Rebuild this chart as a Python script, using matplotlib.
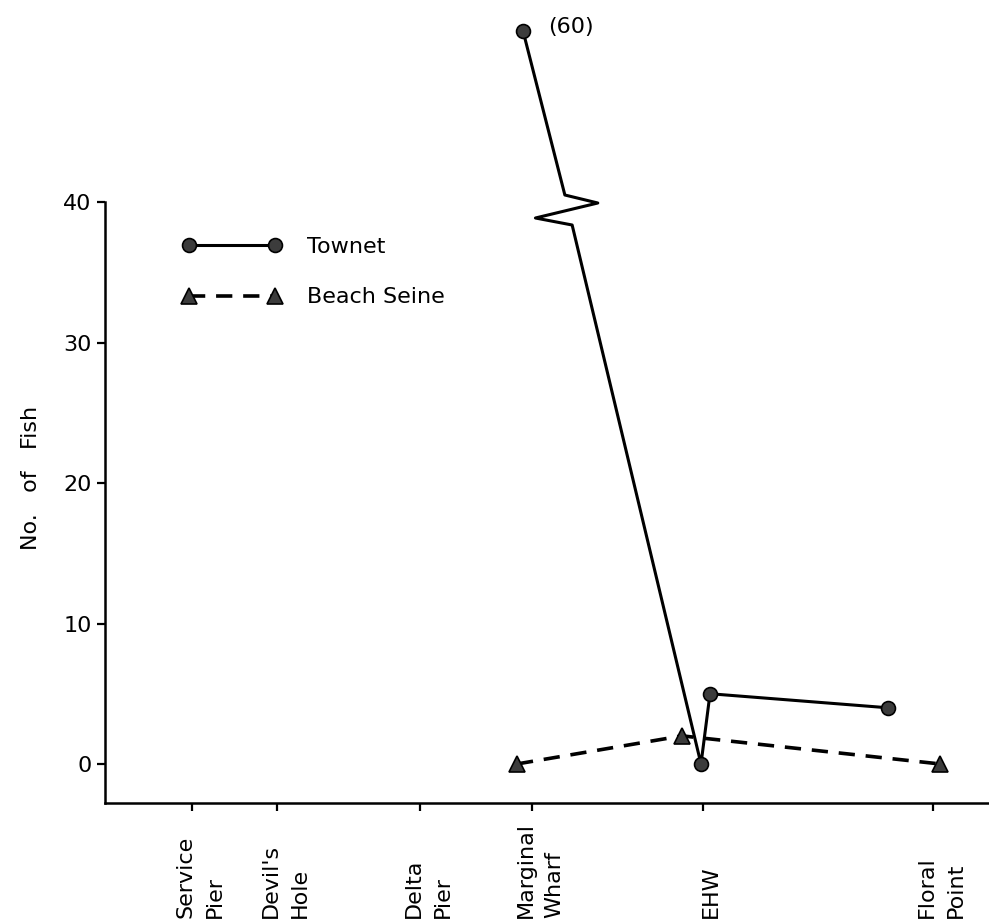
import numpy as np
import matplotlib
matplotlib.use("Agg")
import matplotlib.pyplot as plt
from matplotlib.transforms import blended_transform_factory, offset_copy

plt.rcParams['font.family'] = ['DejaVu Sans']

# Sampling sites along the shoreline (relative distance units)
sites = ["Service\nPier", "Devil's\nHole", "Delta\nPier", "Marginal\nWharf", "EHW", "Floral\nPoint"]
site_pos = [0.0, 8.5, 22.8, 34.0, 51.1, 74.1]

# Catch per gear type
townet_x = [33.1, 50.9, 51.8, 69.6]
townet_n = [60, 0, 5, 4]
seine_x = [32.5, 49.0, 74.8]
seine_n = [0, 2, 0]

yticks = [0, 10, 20, 30, 40]

# Broken y axis: values above the break are compressed
BREAK = 40.0
SQUEEZE = 0.61


def fwd(v):
    v = np.asarray(v, dtype=float)
    return np.where(v <= BREAK, v, BREAK + (v - BREAK) * SQUEEZE)


def inv(d):
    d = np.asarray(d, dtype=float)
    return np.where(d <= BREAK, d, BREAK + (d - BREAK) / SQUEEZE)


W, H, DPI = 989, 924, 100
FS = 16
AX_BOTTOM = 803
fig = plt.figure(figsize=(W / DPI, H / DPI), dpi=DPI)
ax = fig.add_axes([105 / W, (H - AX_BOTTOM) / H, 1 - 105 / W, AX_BOTTOM / H])
ax.set_yscale('function', functions=(fwd, inv))
ax.set_xlim(-8.7, 79.7)
ax.set_ylim(-2.78, 63.6)

lw_axis = 1.8
for s in ['top', 'right']:
    ax.spines[s].set_visible(False)
for s in ['left', 'bottom']:
    ax.spines[s].set_linewidth(lw_axis)
ax.spines['left'].set_bounds(-2.78, 40)

ax.set_yticks(yticks)
ax.set_yticklabels([str(t) for t in yticks], fontsize=FS)
ax.tick_params(axis='y', length=6, width=1.6, pad=3.5)
ax.set_xticks(site_pos)
ax.set_xticklabels([])
ax.tick_params(axis='x', length=6, width=1.6)
ax.minorticks_off()

# Site names, rotated and aligned at the bottom, set slightly right of each tick
tr = offset_copy(blended_transform_factory(ax.transData, fig.transFigure),
                 fig=fig, x=6, y=0, units='points')
for x, name in zip(site_pos, sites):
    ax.text(x, 6 / H, name, transform=tr, rotation=90, ha='center', va='bottom',
            multialignment='left', fontsize=FS, linespacing=1.55, clip_on=False)

fig.text(31 / W, 1 - 478 / H, "No.   of   Fish", rotation=90, ha='center', va='center',
         fontsize=FS)

mk = dict(markerfacecolor='#3c3c3c', markeredgecolor='black', markeredgewidth=1.2)

# Beach seine
ax.plot(seine_x, seine_n, color='black', lw=2.6, ls=(0, (4.5, 3)), marker='^',
        markersize=11, clip_on=False, **mk)

# Townet: the first segment carries a zigzag break where it crosses the axis top
fig.canvas.draw()
td = ax.transData
p0 = td.transform((townet_x[0], townet_n[0]))
p1 = td.transform((townet_x[1], townet_n[1]))


def on_line(ypix):
    t = (ypix - p0[1]) / (p1[1] - p0[1])
    return p0 + t * (p1 - p0)


zig = np.array([
    on_line(H - 195) + [2, 0],
    on_line(H - 203) + [33, 0],
    on_line(H - 218) + [-33, 0],
    on_line(H - 225) + [2, 0],
])
zig_data = td.inverted().transform(zig)

tx = [townet_x[0]] + list(zig_data[:, 0]) + townet_x[1:]
ty = [townet_n[0]] + list(zig_data[:, 1]) + townet_n[1:]
ax.plot(tx, ty, color='black', lw=2.2, clip_on=False)
ax.plot(townet_x, townet_n, ls='none', marker='o', markersize=10, clip_on=False, **mk)

# Legend
h_t, = ax.plot([], [], color='black', lw=2.2, marker='o', markersize=10, **mk)
h_s, = ax.plot([], [], color='black', lw=2.6, ls=(0, (4.5, 3)), marker='^', markersize=11, **mk)
ax.legend([h_t, h_s], ["Townet", "Beach Seine"], numpoints=2, frameon=False,
          fontsize=FS, handlelength=4.47, handletextpad=1.16, labelspacing=1.37,
          loc='upper left', bbox_to_anchor=(182 / W, 1 - 237 / H),
          bbox_transform=fig.transFigure, borderaxespad=0, borderpad=0)

ax.annotate("(60)", (townet_x[0], townet_n[0]), xytext=(18, 3), textcoords='offset points',
            ha='left', va='center', fontsize=FS)

fig.savefig("out.png", dpi=DPI)
